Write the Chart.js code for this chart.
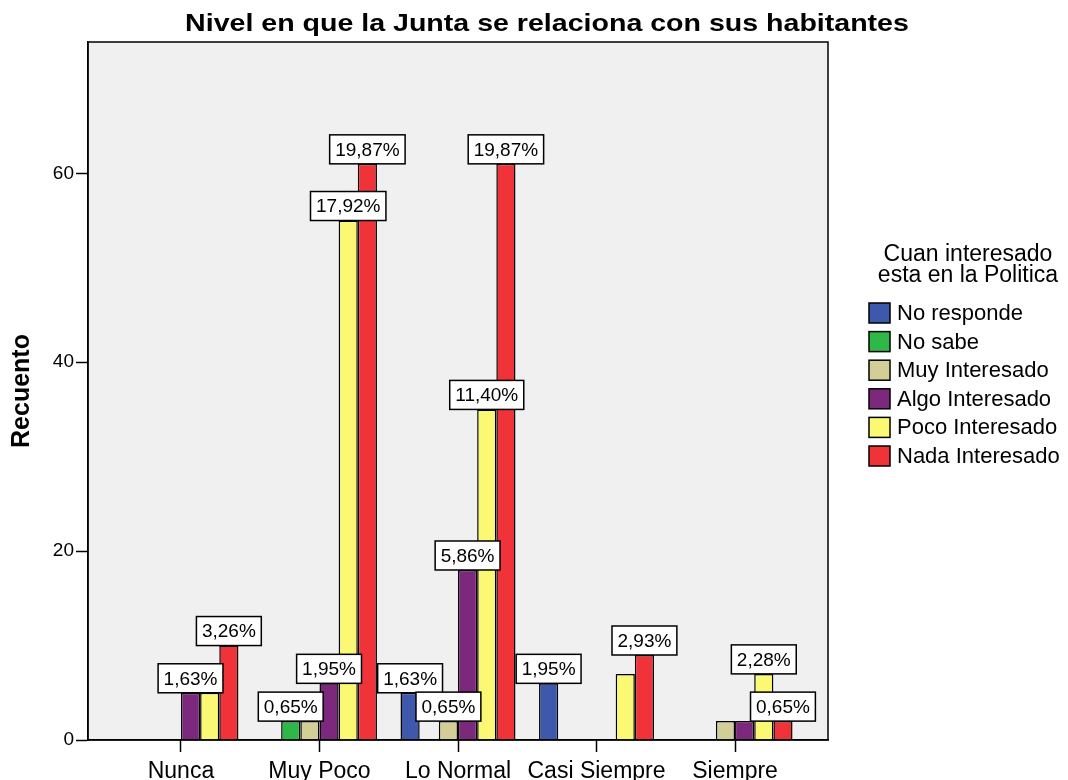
<!DOCTYPE html>
<html>
<head>
<meta charset="utf-8">
<script src="https://cdn.jsdelivr.net/npm/chart.js@4.4.1/dist/chart.umd.min.js"></script>
<style>
  html, body { margin: 0; padding: 0; background: #fff; }
  #wrap { width: 1068px; height: 780px; }
</style>
</head>
<body>
<div id="wrap"><canvas id="chart"></canvas></div>
<script>
const chartTitle = 'Nivel en que la Junta se relaciona con sus habitantes';
const yTitle = 'Recuento';
const categories = ['Nunca', 'Muy Poco', 'Lo Normal', 'Casi Siempre', 'Siempre'];
const legendTitle = ['Cuan interesado', 'esta en la Politica'];
const seriesNames = ['No responde', 'No sabe', 'Muy Interesado', 'Algo Interesado', 'Poco Interesado', 'Nada Interesado'];
const seriesColors = ['#3E58AC', '#2EB848', '#D3CE97', '#7C287D', '#FBF873', '#EF3338'];

// counts per category (Nunca, Muy Poco, Lo Normal, Casi Siempre, Siempre)
const noResponde = [0, 0, 5, 6, 0];
const noSabe     = [0, 2, 0, 0, 0];
const muyInt     = [0, 2, 2, 0, 2];
const algoInt    = [5, 6, 18, 0, 2];
const pocoInt    = [5, 55, 35, 7, 7];
const nadaInt    = [10, 61, 61, 9, 2];

// percentage labels as printed on the chart (null = not shown)
const lblNoResponde = [null, null, '1,63%', '1,95%', null];
const lblNoSabe     = [null, '0,65%', null, null, null];
const lblMuyInt     = [null, null, '0,65%', null, null];
const lblAlgoInt    = ['1,63%', '1,95%', '5,86%', null, null];
const lblPocoInt    = [null, '17,92%', '11,40%', null, '2,28%'];
const lblNadaInt    = ['3,26%', '19,87%', '19,87%', '2,93%', '0,65%'];

const yTicks = [0, 20, 40, 60];
const yMax = 73.9;

const seriesValues = [noResponde, noSabe, muyInt, algoInt, pocoInt, nadaInt];
const seriesLabels = [lblNoResponde, lblNoSabe, lblMuyInt, lblAlgoInt, lblPocoInt, lblNadaInt];

const FONT = 'Arial, "Liberation Sans", sans-serif';

// gray plot background + frame
const plotFrame = {
    id: 'plotFrame',
    beforeDraw(chart) {
        const { ctx, chartArea: a } = chart;
        ctx.save();
        ctx.fillStyle = '#F0F0F0';
        ctx.fillRect(a.left, a.top, a.right - a.left, a.bottom - a.top);
        ctx.restore();
    },
    afterDraw(chart) {
        const { ctx, chartArea: a } = chart;
        ctx.save();
        ctx.strokeStyle = '#000';
        ctx.lineWidth = 1.5;
        ctx.strokeRect(a.left, a.top, a.right - a.left, a.bottom - a.top);

        // title (slightly wide lettering like the original)
        ctx.fillStyle = '#000';
        ctx.font = 'bold 24px ' + FONT;
        ctx.textAlign = 'center';
        ctx.textBaseline = 'middle';
        ctx.translate(547, 24);
        ctx.scale(1.19, 1);
        ctx.fillText(chartTitle, 0, 0);
        ctx.restore();
    }
};

// white boxed percentage labels on top of the bars
const barLabels = {
    id: 'barLabels',
    afterDatasetsDraw(chart) {
        const { ctx } = chart;
        ctx.save();
        ctx.font = '19px ' + FONT;
        ctx.textAlign = 'center';
        ctx.textBaseline = 'middle';
        chart.data.datasets.forEach((ds, di) => {
            const meta = chart.getDatasetMeta(di);
            meta.data.forEach((bar, i) => {
                const txt = seriesLabels[di][i];
                if (!txt) return;
                const w = ctx.measureText(txt).width + 11;
                const h = 29;
                const x = bar.x - w / 2;
                const y = bar.y - h;
                ctx.fillStyle = '#fff';
                ctx.fillRect(x, y, w, h);
                ctx.strokeStyle = '#000';
                ctx.lineWidth = 1.5;
                ctx.strokeRect(x, y, w, h);
                ctx.fillStyle = '#000';
                ctx.fillText(txt, bar.x, y + h / 2 + 1);
            });
        });
        ctx.restore();
    }
};

// legend at the right
const sideLegend = {
    id: 'sideLegend',
    afterDraw(chart) {
        const { ctx } = chart;
        ctx.save();
        ctx.fillStyle = '#000';
        ctx.font = '23px ' + FONT;
        ctx.textAlign = 'center';
        ctx.textBaseline = 'middle';
        legendTitle.forEach((t, i) => ctx.fillText(t, 968, 255 + i * 21));

        ctx.font = '22px ' + FONT;
        ctx.textAlign = 'left';
        seriesNames.forEach((name, i) => {
            const cy = 313 + i * 28.6;
            ctx.fillStyle = seriesColors[i];
            ctx.fillRect(869, cy - 10, 21, 20);
            ctx.strokeStyle = '#000';
            ctx.lineWidth = 1.5;
            ctx.strokeRect(869, cy - 10, 21, 20);
            ctx.fillStyle = '#000';
            ctx.fillText(name, 897, cy + 1);
        });
        ctx.restore();
    }
};

const datasets = seriesNames.map((name, di) => ({
    label: name,
    data: seriesValues[di].map((v, i) => ({ x: i, y: v })),
    backgroundColor: seriesColors[di],
    borderColor: '#000',
    borderWidth: 1.5,
    categoryPercentage: 0.83,
    barPercentage: 1
}));

new Chart(document.getElementById('chart'), {
    type: 'bar',
    data: { datasets: datasets },
    plugins: [plotFrame, barLabels, sideLegend],
    options: {
        responsive: true,
        maintainAspectRatio: false,
        animation: false,
        layout: { padding: { top: 42, right: 240, left: 0, bottom: 0 } },
        plugins: {
            legend: { display: false },
            title: { display: false },
            tooltip: { enabled: false }
        },
        scales: {
            x: {
                type: 'linear',
                offset: false,
                min: -0.671,
                max: 4.671,
                afterBuildTicks: (axis) => { axis.ticks = categories.map((c, i) => ({ value: i })); },
                afterFit: (scale) => { scale.height = 40; },
                ticks: {
                    autoSkip: false,
                    maxRotation: 0,
                    color: '#000',
                    padding: 6,
                    font: { family: FONT, size: 23 },
                    callback: (v) => categories[v] ?? ''
                },
                grid: { offset: false, drawOnChartArea: false, tickLength: 12, tickColor: '#000', tickWidth: 1.5 },
                border: { color: '#000', width: 1.5 }
            },
            y: {
                min: 0,
                max: yMax,
                afterBuildTicks: (axis) => { axis.ticks = yTicks.map(v => ({ value: v })); },
                afterFit: (scale) => { scale.width = 88; },
                ticks: {
                    color: '#000',
                    padding: 2,
                    font: { family: FONT, size: 19 }
                },
                grid: { drawOnChartArea: false, tickLength: 12, tickColor: '#000', tickWidth: 1.5 },
                border: { color: '#000', width: 1.5 },
                title: {
                    display: true,
                    text: yTitle,
                    color: '#000',
                    padding: { top: 7, bottom: 0 },
                    font: { family: FONT, size: 25, weight: 'bold' }
                }
            }
        }
    }
});
</script>
</body>
</html>
